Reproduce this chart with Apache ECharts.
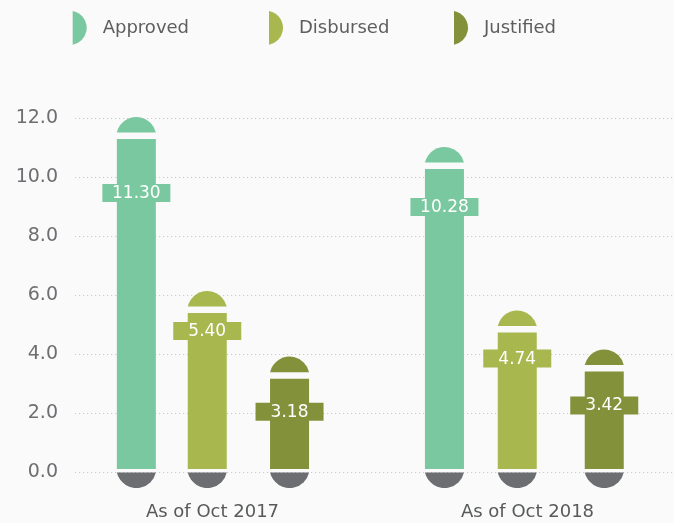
<!DOCTYPE html>
<html>
<head>
<meta charset="utf-8">
<script src="https://cdn.jsdelivr.net/npm/echarts@6/dist/echarts.min.js"></script>
<style>
  html, body { margin: 0; padding: 0; background: #f9faf9; }
  #main { width: 674px; height: 523px; }
</style>
</head>
<body>
<div id="main"></div>
<script>
// data
var categories = ['As of Oct 2017', 'As of Oct 2018'];
var seriesNames = ['Approved', 'Disbursed', 'Justified'];
var approved = [11.30, 10.28];
var disbursed = [5.40, 4.74];
var justified = [3.18, 3.42];

// looks
var colors = ['#7ac89f', '#a8b74e', '#83913a'];
var baseGrey = '#6d6e71';
var barWidth = 39;
var barOffsets = [[-88.4, -79.8], [-17.5, -7], [64.8, 80]];   // px from category centre
var labelDrop = [[54, 38], [18, 26], [33, 34]]; // label box centre below bar top, px
var fontName = '"DejaVu Sans", sans-serif';

function makeRender(si) {
	return function (params, api) {
		var idx = api.value(0);
		var v = api.value(1);
		var base = api.coord([idx, 0]);
		var top = api.coord([idx, v]);
		var cx = base[0] + barOffsets[si][idx];
		var y0 = base[1];
		var h = barWidth / 2;
		var ty = top[1];
		var capY = ty - 6.5;
		var ly = ty + labelDrop[si][idx];
		return {
			type: 'group',
			children: [
				{ type: 'rect', shape: { x: cx - h, y: ty, width: barWidth, height: y0 - 3.5 - ty }, style: { fill: colors[si] } },
				{ type: 'path', shape: { pathData: 'M' + (cx - h) + ',' + capY + ' A20,20 0 0 1 ' + (cx + h) + ',' + capY + ' Z' }, style: { fill: colors[si] } },
				{ type: 'path', shape: { pathData: 'M' + (cx - h) + ',' + y0 + ' A20,20 0 0 0 ' + (cx + h) + ',' + y0 + ' Z' }, style: { fill: baseGrey } },
				{ type: 'rect', shape: { x: cx - 34, y: ly - 9, width: 68, height: 18 }, style: { fill: colors[si] } },
				{ type: 'text', style: { text: v.toFixed(2), x: cx, y: ly + 0.5, fill: '#fff', fontSize: 17, fontFamily: fontName, align: 'center', verticalAlign: 'middle' } }
			]
		};
	};
}

var values = [approved, disbursed, justified];
var series = [];
var legends = [];
var legendLeft = [72.7, 269, 454];
for (var i = 0; i < 3; i++) {
	series.push({
		name: seriesNames[i],
		type: 'custom',
		renderItem: makeRender(i),
		itemStyle: { color: colors[i] },
		encode: { x: 0, y: 1 },
		data: values[i].map(function (v, k) { return [k, v]; })
	});
	legends.push({
		data: [{ name: seriesNames[i], icon: 'path://M0,0 A17.3,17.3 0 0 1 0,34 Z' }],
		left: legendLeft[i],
		top: 11,
		padding: 0,
		itemWidth: 14,
		itemHeight: 34,
		selectedMode: false,
		textStyle: { fontSize: 18, color: '#5e5e5e', fontFamily: fontName, padding: [2, 0, 0, 11] }
	});
}

var myChart = echarts.init(document.getElementById('main'));
var option = {
	backgroundColor: '#f9faf9',
	animation: false,
	legend: legends,
	grid: { left: 75, right: 0, top: 118.3, bottom: 50.5 },
	xAxis: {
		type: 'category',
		data: categories,
		axisLine: { show: false },
		axisTick: { show: false },
		axisLabel: {
			margin: 31,
			formatter: function (v, i) { return (i === 0 ? '{a|' : '{b|') + v + '}'; },
			rich: {
				a: { fontSize: 18, color: '#58595b', fontFamily: fontName, padding: [0, 24.5, 0, 0] },
				b: { fontSize: 18, color: '#58595b', fontFamily: fontName, padding: [0, 0, 0, 6.5] }
			}
		}
	},
	yAxis: {
		type: 'value',
		min: 0,
		max: 12,
		interval: 2,
		axisLine: { show: false },
		axisTick: { show: false },
		axisLabel: { margin: 17, fontSize: 19, color: '#6d6e71', fontFamily: fontName, formatter: function (v) { return v.toFixed(1); } },
		splitLine: { lineStyle: { color: '#c9cbcb', type: [1.2, 2.8], width: 1 } }
	},
	series: series
};
myChart.setOption(option);
</script>
</body>
</html>
